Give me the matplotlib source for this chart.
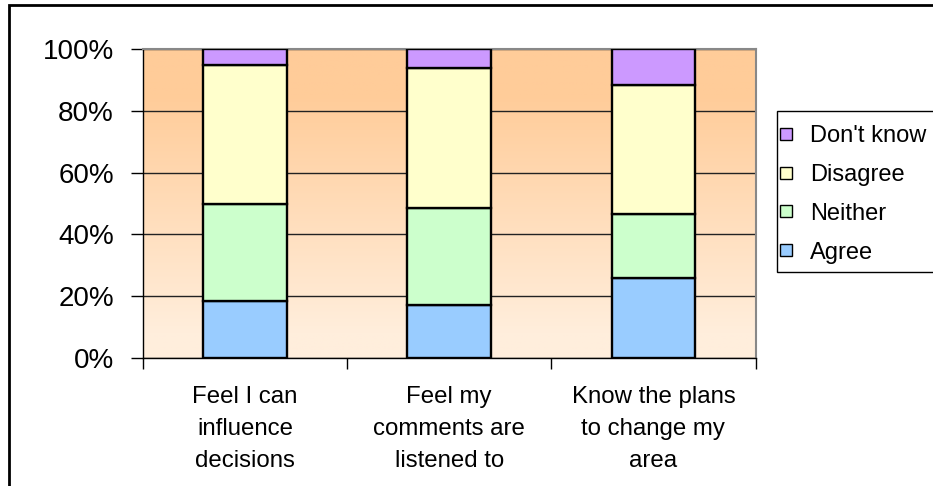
import numpy as np
import matplotlib
matplotlib.use("Agg")
import matplotlib.pyplot as plt
from matplotlib.patches import Rectangle
from matplotlib.colors import to_rgb

plt.rcParams['font.family'] = ['Liberation Sans', 'DejaVu Sans']

categories = ["Feel I can\ninfluence\ndecisions",
              "Feel my\ncomments are\nlistened to",
              "Know the plans\nto change my\narea"]
series_names = ["Agree", "Neither", "Disagree", "Don't know"]
agree = [18.6, 17.3, 25.8]
neither = [31.2, 31.2, 20.9]
disagree = [44.9, 45.5, 41.5]
dont_know = [5.3, 6.0, 11.8]
series_values = [agree, neither, disagree, dont_know]
colors = ["#99CCFF", "#CCFFCC", "#FFFFCC", "#CC99FF"]
ytick_labels = ["0%", "20%", "40%", "60%", "80%", "100%"]

W, H = 933, 486
fig = plt.figure(figsize=(W / 100, H / 100), dpi=100)
fig.patch.set_facecolor("white")

ax = fig.add_axes([143 / W, 1 - 358 / H, (755.5 - 143) / W, (358 - 49) / H])

# gradient background
top = np.array(to_rgb("#FFCC99"))
bot = np.array(to_rgb("#FFEEDC"))
yy = np.linspace(0, 1, 256)
t = np.clip((yy - 0.08) / (0.85 - 0.08), 0, 1)
grad = bot[None, :] * (1 - t[:, None]) + top[None, :] * t[:, None]
img = np.repeat(grad[:, None, :], 2, axis=1)
ax.imshow(img, extent=[-0.5, 2.5, 0, 100], origin="lower", aspect="auto", zorder=0)

x = np.arange(len(categories))
bottom = np.zeros(len(categories))
for name, vals, c in zip(series_names, series_values, colors):
    v = np.array(vals)
    ax.bar(x, v, width=0.41, bottom=bottom, color=c, edgecolor="black",
           linewidth=1.7, zorder=3, label=name)
    bottom += v

ax.set_xlim(-0.5, 2.5)
ax.set_ylim(0, 100)
ax.set_yticks(np.arange(0, 101, 20))
ax.set_yticklabels(ytick_labels, fontsize=20)
ax.yaxis.grid(True, color="#222222", linewidth=1.0, zorder=1)
ax.set_axisbelow(True)

ax.set_xticks([-0.5, 0.5, 1.5, 2.5])
ax.set_xticklabels([])
ax.set_xticks(x, minor=True)
ax.set_xticklabels(categories, minor=True, fontsize=17.3, linespacing=1.6)
ax.tick_params(axis="x", which="minor", length=0, pad=20)
ax.tick_params(axis="x", which="major", length=8, width=1, color="black", direction="out")
ax.tick_params(axis="y", length=9, width=1, color="black", direction="out", pad=12)

for side in ["top", "right"]:
    ax.spines[side].set_color("#888888")
    ax.spines[side].set_linewidth(1.5)
for side in ["left", "bottom"]:
    ax.spines[side].set_color("black")
    ax.spines[side].set_linewidth(1.0)

# legend (drawn in figure pixel positions)
def fx(px):
    return px / W

def fy(py):
    return 1 - py / H

fig.patches.append(Rectangle((fx(777), fy(272)), fx(960) - fx(777), fy(111) - fy(272),
                             transform=fig.transFigure, facecolor="white",
                             edgecolor="black", linewidth=1.0, zorder=5))
entry_y = [134, 173, 211, 250]
for yc, name, c in zip(entry_y, series_names[::-1], colors[::-1]):
    fig.patches.append(Rectangle((fx(780), fy(yc + 6)), fx(792) - fx(780), fy(yc - 6) - fy(yc + 6),
                                 transform=fig.transFigure, facecolor=c,
                                 edgecolor="black", linewidth=1.0, zorder=6))
    fig.text(fx(810), fy(yc), name, fontsize=17, va="center_baseline", ha="left",
             zorder=7)

# outer chart border
fig.patches.append(Rectangle((9 / W, -0.05), 1.2, 1 - 5 / H + 0.05,
                             transform=fig.transFigure, fill=False,
                             edgecolor="black", linewidth=2, zorder=10))

fig.savefig("out.png", dpi=100)
